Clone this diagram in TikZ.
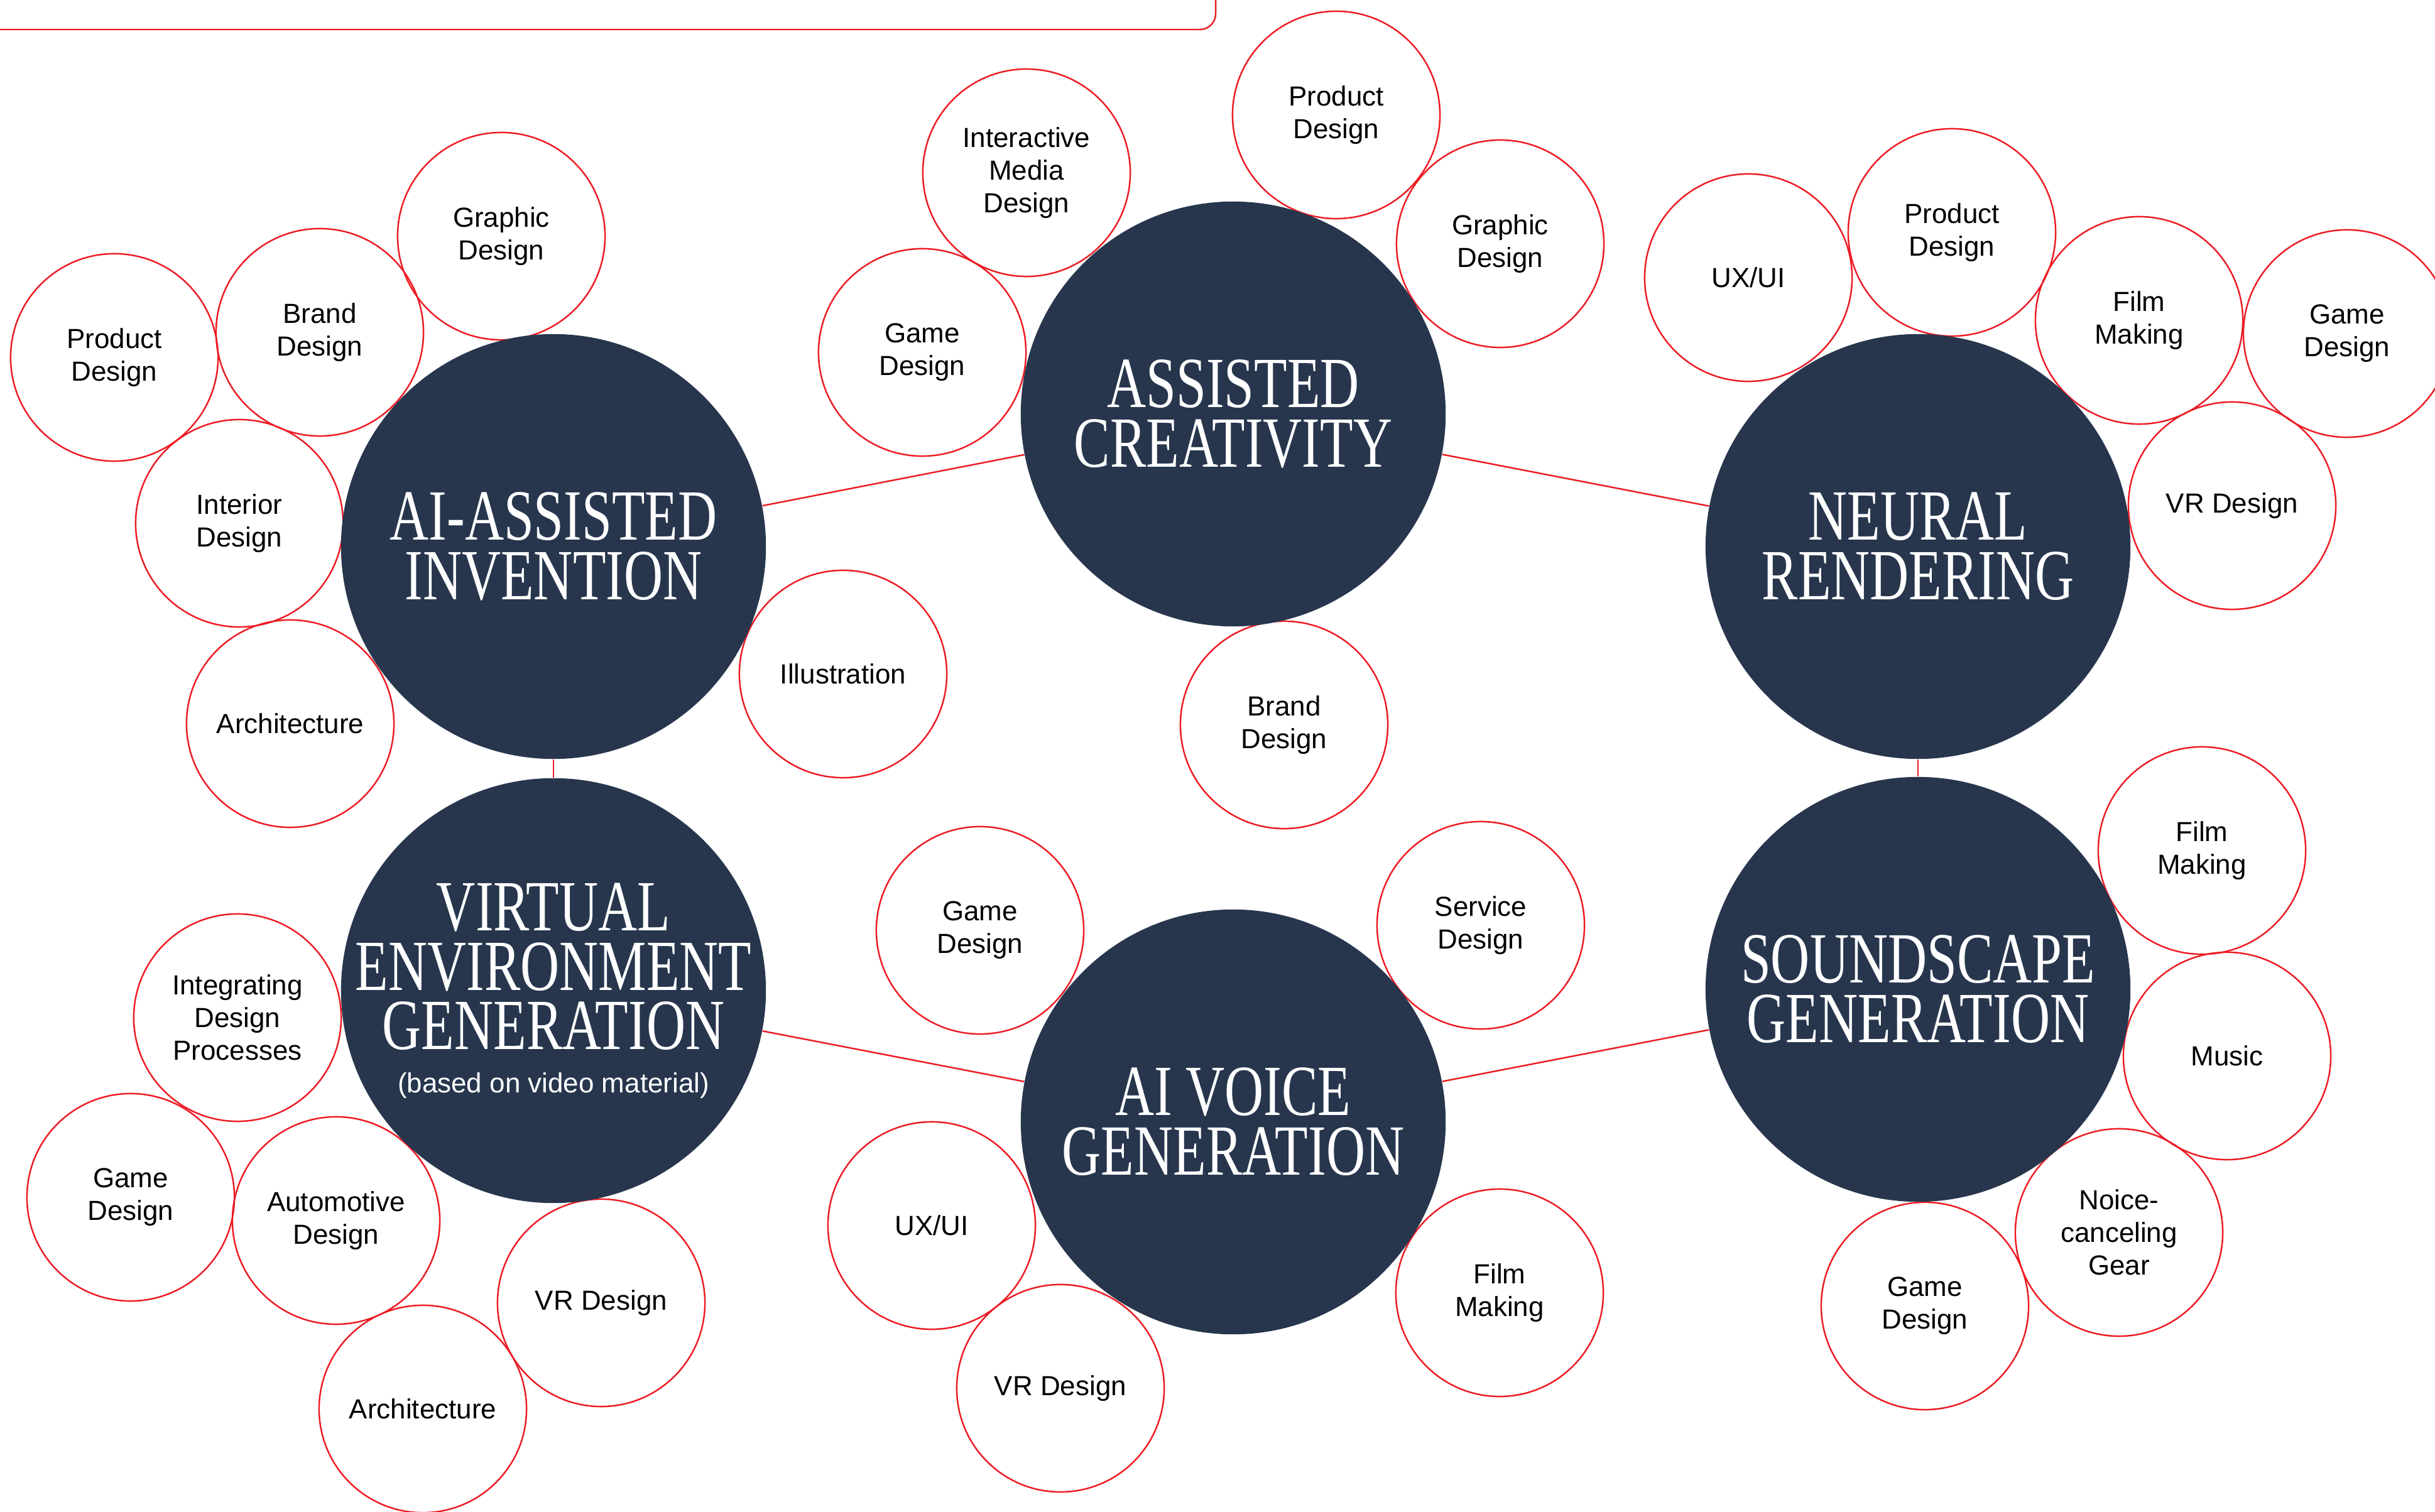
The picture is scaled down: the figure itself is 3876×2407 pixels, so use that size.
\documentclass[tikz,border=0pt]{standalone}
\usepackage{fontspec}
\setmainfont{Liberation Sans}
\newfontfamily\titlefont[FakeStretch=0.75]{Liberation Serif}
\usetikzlibrary{backgrounds}
\definecolor{navy}{HTML}{27364D}
\definecolor{accent}{HTML}{ED1C24}
\begin{document}
\begin{tikzpicture}[x=0.01cm, y=-0.01cm,
  topic/.style={circle, fill=navy, minimum size=6.76cm, inner sep=0pt, text=white, align=center, font=\titlefont\fontsize{32.6}{27}\selectfont},
  item/.style={circle, draw=accent, line width=0.7pt, minimum size=3.3cm, inner sep=0pt, align=center, font=\fontsize{12.5}{14.8}\selectfont},
  link/.style={draw=accent, line width=0.7pt}]
\clip (0,0) rectangle (3876,2407);

% frame line at top left
\draw[link, rounded corners=0.25cm] (-20,47) -- (1935,47) -- (1935,-20);

% ---- items: AI-assisted invention
\node[item] (ai1) at (798,376) {Graphic\\Design};
\node[item] (ai2) at (509,529) {Brand\\Design};
\node[item] (ai3) at (182,569) {Product\\Design};
\node[item] (ai4) at (381,833) {Interior\\Design};
\node[item] (ai5) at (462,1152) {Architecture};
\node[item] (ai6) at (1342,1073) {Illustration};

% ---- items: assisted creativity
\node[item] (ac1) at (1634,275) {Interactive\\Media\\Design};
\node[item] (ac2) at (2127,183) {Product\\Design};
\node[item] (ac3) at (2388,388) {Graphic\\Design};
\node[item] (ac4) at (1468,561) {Game\\Design};
\node[item] (ac5) at (2044,1154) {Brand\\Design};

% ---- items: neural rendering
\node[item] (nr1) at (2783,442) {UX/UI};
\node[item] (nr2) at (3107,370) {Product\\Design};
\node[item] (nr3) at (3405,510) {Film\\Making};
\node[item] (nr4) at (3736,531) {Game\\Design};
\node[item] (nr5) at (3553,805) {VR Design};

% ---- items: virtual environment generation
\node[item] (ve1) at (378,1620) {Integrating\\Design\\Processes};
\node[item] (ve2) at (208,1906) {Game\\Design};
\node[item] (ve3) at (535,1943) {Automotive\\Design};
\node[item] (ve4) at (957,2074) {VR Design};
\node[item] (ve5) at (673,2243) {Architecture};

% ---- items: AI voice generation
\node[item] (av1) at (1560,1481) {Game\\Design};
\node[item] (av2) at (2357,1473) {Service\\Design};
\node[item] (av3) at (1483,1951) {UX/UI};
\node[item] (av4) at (1688,2210) {VR Design};
\node[item] (av5) at (2387,2058) {Film\\Making};

% ---- items: soundscape generation
\node[item] (sg1) at (3505,1354) {Film\\Making};
\node[item] (sg2) at (3545,1681) {Music};
\node[item] (sg3) at (3373,1962) {Noice-\\canceling\\Gear};
\node[item] (sg4) at (3064,2079) {Game\\Design};

% ---- topics
\node[topic] (ai) at (881,870) {AI-ASSISTED\\INVENTION};
\node[topic] (ac) at (1963,659) {ASSISTED\\CREATIVITY};
\node[topic] (nr) at (3053,870) {NEURAL\\RENDERING};
\node[topic, inner sep=-0.5cm] (ve) at (881,1577) {VIRTUAL\\ENVIRONMENT\\GENERATION\\[-7.5pt]{\rmfamily\fontsize{12.5}{15}\selectfont (based on video material)}};
\node[topic] (av) at (1963,1786) {AI VOICE\\GENERATION};
\node[topic] (sg) at (3053,1575) {SOUNDSCAPE\\GENERATION};

% ---- connectors
\begin{pgfonlayer}{background}
\fill[white] (0,0) rectangle (3876,2407);
\draw[link] (ai) -- (ac);
\draw[link] (ac) -- (nr);
\draw[link] (ai) -- (ve);
\draw[link] (nr) -- (sg);
\draw[link] (ve) -- (av);
\draw[link] (av) -- (sg);
\end{pgfonlayer}
\end{tikzpicture}
\end{document}
